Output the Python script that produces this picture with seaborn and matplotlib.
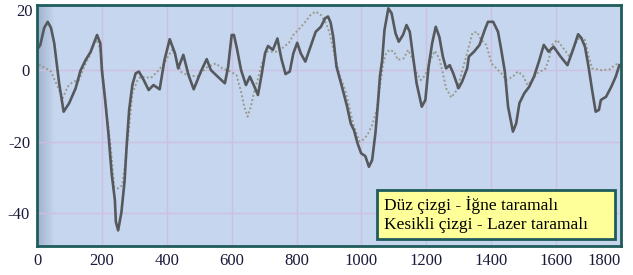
import numpy as np
import pandas as pd
import matplotlib
matplotlib.use("Agg")
import matplotlib.pyplot as plt
from matplotlib.patches import Rectangle
import seaborn as sns

# needle scan (solid line)
needle_x = [5, 10, 22, 33, 43, 53, 68, 82, 99, 119, 134, 150, 165, 185, 195, 200,
            210, 220, 230, 240, 243, 250, 260, 270, 276, 284, 294, 304, 314, 329,
            344, 359, 378, 393, 409, 425, 435, 451, 467, 483, 505, 523, 536, 552,
            579, 589, 600, 607, 617, 629, 644, 656, 668, 681, 693, 703, 712, 727,
            741, 753, 766, 779, 790, 802, 813, 827, 843, 859, 875, 888, 897, 905,
            913, 923, 940, 956, 967, 977, 988, 999, 1012, 1023, 1033, 1043, 1050,
            1057, 1064, 1071, 1083, 1093, 1105, 1115, 1128, 1139, 1149, 1160, 1170,
            1186, 1197, 1207, 1218, 1229, 1240, 1251, 1261, 1272, 1283, 1299, 1310,
            1326, 1331, 1347, 1364, 1380, 1390, 1406, 1421, 1431, 1442, 1452, 1467,
            1477, 1487, 1502, 1517, 1532, 1547, 1562, 1577, 1592, 1614, 1635, 1652,
            1668, 1678, 1689, 1700, 1711, 1722, 1732, 1738, 1754, 1770, 1784, 1795]
needle_y = [6.5, 7.2, 12, 13.7, 12, 7.7, -3.5, -11.6, -9.2, -5, 0, 3, 5.2, 10, 7.7, 0,
            -8.3, -17.7, -29, -36.5, -42.6, -45, -40, -31, -21.5, -11, -4, -0.8, -0.3, -2.7,
            -5.5, -4.1, -5.3, 3, 8.8, 4.9, 0.6, 4.4, -1.3, -5.3, -0.3, 3.2, 0.1, -1.3,
            -3.6, 1, 10, 10, 5.8, 0.1, -4.1, -1.7, -4.1, -6.9, -0.8, 4.9, 6.9, 5.8,
            9, 3.4, -1, -0.3, 4.8, 7.8, 4.8, 2.5, 6.7, 10.9, 12.3, 14.7, 15.2, 13.5,
            9.5, 1.1, -4.6, -10.2, -14.9, -16.8, -20.5, -23.3, -24.1, -27.1, -25.2, -17.7, -10.2,
            -1.7, 3, 11.4, 17.5, 16.1, 10.5, 8.1, 10, 12.8, 10.9, 3.4, -3.6,
            -10.2, -8.3, 1.1, 7.7, 12.3, 9.5, 3.9, 0.6, 1.5, -0.8, -5, -3.2,
            0.6, 3.9, 5.3, 7.2, 11.4, 13.7, 13.7, 10.9, 5.8, -0.3, -10.2, -17.2,
            -14.9, -9.2, -6.4, -4.6, -1.7, 2.5, 7.2, 5.3, 6.7, 3.9, 1.5, 5.8,
            10.2, 9.1, 6.7, 1.1, -5.5, -11.6, -11.1, -8.3, -7.4, -4.6, -1.7, 1.5]

# laser scan (dotted line)
laser_x = [5, 10, 43, 68, 79, 94, 110, 130, 145, 161, 176, 187, 197, 210, 228, 238,
           250, 263, 274, 284, 294, 310, 320, 351, 371, 392, 407, 418, 430, 443,
           463, 494, 525, 551, 571, 597, 615, 629, 639, 649, 659, 668, 683, 693,
           708, 727, 746, 761, 776, 790, 805, 827, 843, 859, 875, 891, 902, 918,
           934, 950, 967, 977, 994, 1004, 1018, 1033, 1047, 1057, 1067, 1076, 1086,
           1101, 1112, 1130, 1144, 1157, 1168, 1183, 1197, 1213, 1226, 1240, 1251,
           1261, 1277, 1294, 1310, 1320, 1331, 1342, 1356, 1369, 1385, 1401, 1416,
           1431, 1446, 1467, 1482, 1497, 1512, 1527, 1542, 1568, 1578, 1588, 1603,
           1619, 1641, 1657, 1673, 1689, 1698, 1711, 1738, 1765, 1781, 1795]
laser_y = [1.5, 1.5, -0.3, -5.5, -7.8, -4.6, -3.2, -2.7, 1, 3.9, 7.7, 8.6, 4.9, -8, -22.4, -32.8,
           -33.2, -32.3, -24.3, -15.9, -6.4, -2.7, -1.7, -2.1, -0.3, 2, 4.4, 6, 3, -0.3,
           -1.3, -1.7, 1, 2, 0.6, -0.3, -1.3, -6, -10.2, -13, -10.2, -6.4, -1.7, 2,
           5.3, 5.3, 5.3, 6.7, 7.7, 10, 11.4, 13.7, 15.6, 16.6, 15.6, 13.3, 10.5, 3.9,
           -1.7, -5.5, -12, -15.8, -20, -19.6, -18.2, -15.4, -11.1, -4.6, 2, 4.8, 5.8,
           5.3, 3, 3.4, 5.8, 3.4, -0.3, -2.7, -1.3, 3, 5.5, 3.4, -0.8,
           -5, -7.6, -5.5, -0.3, 3, 6.7, 10.5, 10.9, 8.6, 7.2, 2, 0.6,
           -0.8, -2.7, -1.7, -0.3, -1.3, -4.1, -2.7, -0.8, 0.6, 3.4, 7.2, 8.6,
           6.7, 3.9, 7.2, 9.5, 8.6, 4.8, 0.6, 0.1, 0.3, 1.5, 2.2]

x_ticks = [0, 200, 400, 600, 800, 1000, 1200, 1400, 1600, 1800]
y_ticks = [0, -20, -40]
y_tick_labels = ["0", "-20", "-40"]
legend_lines = ["Düz çizgi - İğne taramalı", "Kesikli çizgi - Lazer taramalı"]

needle = pd.DataFrame({"x": needle_x, "y": needle_y})
laser = pd.DataFrame({"x": laser_x, "y": laser_y})

plt.rcParams["font.family"] = ["Liberation Serif", "DejaVu Serif"]

fig = plt.figure(figsize=(6.33, 2.75), dpi=100)
ax = fig.add_axes([0.0585, 0.1055, 0.9225, 0.8765])
ax.set_facecolor("#c6d6ee")

# darker band along the left edge of the plot area
shade = np.linspace(0, 1, 50).reshape(1, -1)
ax.imshow(shade, extent=(0, 0.03, 0, 1), transform=ax.transAxes, aspect="auto",
          cmap=matplotlib.colors.LinearSegmentedColormap.from_list("sh", ["#9fb1cc", "#c6d6ee"]),
          zorder=0.5)

sns.lineplot(data=laser, x="x", y="y", ax=ax, color="#9a9a8c", linewidth=1.4,
             linestyle=(0, (1, 1.2)), estimator=None)
sns.lineplot(data=needle, x="x", y="y", ax=ax, color="#55595e", linewidth=1.9,
             estimator=None)

ax.set_xlim(0, 1800)
ax.set_ylim(-49.4, 18.45)
ax.set_xticks(x_ticks)
ax.set_yticks(y_ticks)
ax.set_yticklabels(y_tick_labels)
ax.set_xlabel("")
ax.set_ylabel("")
ax.grid(True, color="#cdbfe0", linewidth=1.0)
ax.set_axisbelow(True)
ax.tick_params(length=0, labelsize=12, labelcolor="#1a1a3a", pad=5)
ax.get_xticklabels()[-1].set_horizontalalignment("right")
ax.text(-0.007, 0.971, "20", transform=ax.transAxes, ha="right", va="center",
        fontsize=12, color="#1a1a3a")

for s in ax.spines.values():
    s.set_color("#1f5c5c")
    s.set_linewidth(2)

# legend box
ax.add_patch(Rectangle((0.582, 0.027), 0.408, 0.205, transform=ax.transAxes,
                       facecolor="#ffff99", edgecolor="#1f5c5c", linewidth=2, zorder=5))
ax.text(0.594, 0.172, legend_lines[0], transform=ax.transAxes, fontsize=12.5,
        va="center", ha="left", color="black", zorder=6)
ax.text(0.594, 0.086, legend_lines[1], transform=ax.transAxes, fontsize=12.5,
        va="center", ha="left", color="black", zorder=6)

fig.savefig("out.png", dpi=100)
